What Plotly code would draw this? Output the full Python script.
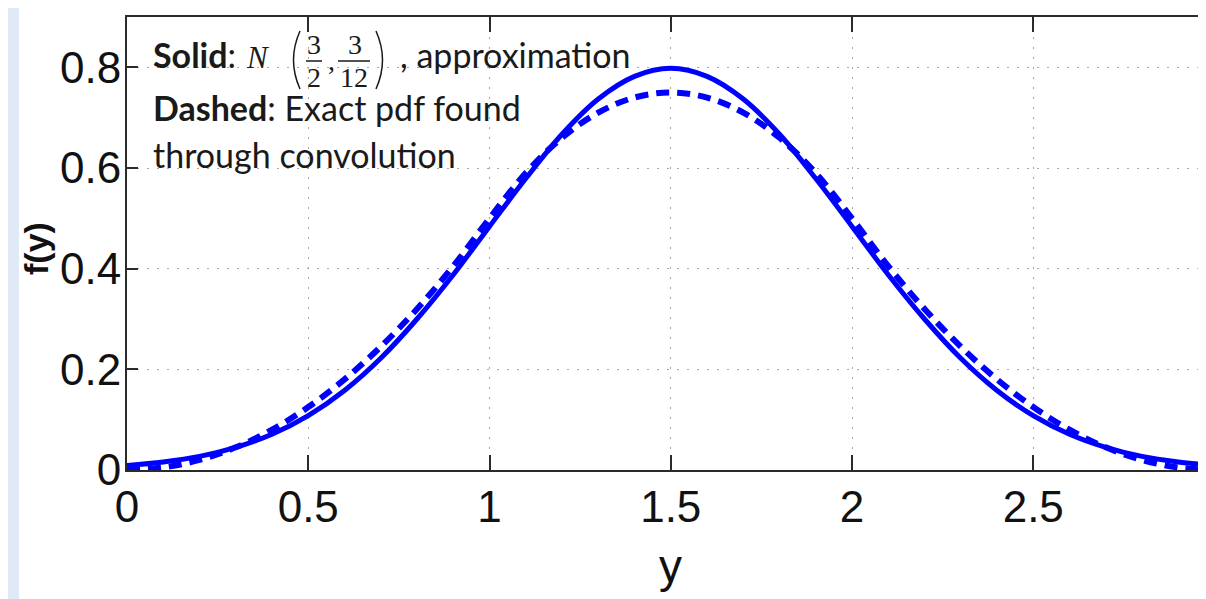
import plotly.graph_objects as go

# data
y_vals = [0.0, 0.1, 0.2, 0.3, 0.4, 0.5, 0.6, 0.7, 0.8, 0.9, 1.0,
          1.1, 1.2, 1.3, 1.4, 1.5, 1.6, 1.7, 1.8, 1.9, 2.0,
          2.1, 2.2, 2.3, 2.4, 2.5, 2.6, 2.7, 2.8, 2.9, 3.0]
normal_approx = [0.009, 0.016, 0.027, 0.045, 0.071, 0.108, 0.158, 0.222, 0.300, 0.388, 0.484,
                 0.579, 0.667, 0.737, 0.782, 0.798, 0.782, 0.737, 0.667, 0.579, 0.484,
                 0.388, 0.300, 0.222, 0.158, 0.108, 0.071, 0.045, 0.027, 0.016, 0.009]
exact_pdf = [0.0, 0.005, 0.020, 0.045, 0.080, 0.125, 0.180, 0.245, 0.320, 0.405, 0.500,
             0.590, 0.660, 0.710, 0.740, 0.750, 0.740, 0.710, 0.660, 0.590, 0.500,
             0.405, 0.320, 0.245, 0.180, 0.125, 0.080, 0.045, 0.020, 0.005, 0.0]

x_ticks = [0, 0.5, 1, 1.5, 2, 2.5]
x_ticklabels = ["0", "0.5", "1", "1.5", "2", "2.5"]
y_ticks = [0, 0.2, 0.4, 0.6, 0.8]
y_ticklabels = ["0", "0.2", "0.4", "0.6", "0.8"]

BLUE = "#0000ff"
BG = "#dfeaf6"
AX = "#2b2b2b"
NUM_FONT = "Liberation Sans, Arial, sans-serif"
TXT_FONT = "Lato, Open Sans, sans-serif"
MATH_FONT = "Liberation Serif, DejaVu Serif, serif"

# the page body has an 8px margin, so the figure sits 8px in from the window corner
OFF = 8
FIG_W, FIG_H = 1206 - OFF, 599 - OFF

# plot area in window pixels
L, T, R, B = 127, 17, 1206, 470
W, H = R - L, B - T


def px(x):
    return (x - L) / W


def py(y):
    return (B - y) / H


fig = go.Figure()

fig.add_trace(go.Scatter(
    x=y_vals, y=normal_approx, mode="lines",
    line=dict(color=BLUE, width=5, shape="spline"),
))
fig.add_trace(go.Scatter(
    x=y_vals, y=exact_pdf, mode="lines",
    line=dict(color=BLUE, width=6, dash="13px,8px", shape="spline"),
))

# light blue frame strip on the left
shapes = [
    dict(type="rect", xref="paper", yref="paper", x0=px(OFF), x1=px(19), y0=py(620), y1=py(0),
         fillcolor=BG, line_width=0, layer="below"),
]

# fraction bars and parentheses for N(3/2, 3/12)
for x0, x1 in [(306, 322), (338, 370)]:
    shapes.append(dict(type="line", xref="paper", yref="paper", x0=px(x0), x1=px(x1),
                       y0=py(61), y1=py(61), line=dict(color="#1a1a1a", width=1.5)))
shapes.append(dict(type="path", xref="paper", yref="paper",
                   path=f"M {px(300)},{py(31)} Q {px(287)},{py(60)} {px(300)},{py(89)}",
                   line=dict(color="#1a1a1a", width=1.5)))
shapes.append(dict(type="path", xref="paper", yref="paper",
                   path=f"M {px(376)},{py(31)} Q {px(389)},{py(60)} {px(376)},{py(89)}",
                   line=dict(color="#1a1a1a", width=1.5)))

ann = []


def note(text, x, y, size=34, family=TXT_FONT, anchor="left", color="#1a1a1a", **kw):
    ann.append(dict(text=text, x=px(x), y=py(y), xref="paper", yref="paper",
                    xanchor=anchor, yanchor="middle", showarrow=False,
                    font=dict(family=family, size=size, color=color), **kw))


note("<b>Solid</b>:", 151, 55)
note("<i>N</i>", 244, 57, size=31, family=MATH_FONT)
note("3", 314, 45, size=28, family=MATH_FONT, anchor="center")
note("2", 314, 77, size=28, family=MATH_FONT, anchor="center")
note(",", 331, 60, size=28, family=MATH_FONT, anchor="center")
note("3", 355, 45, size=28, family=MATH_FONT, anchor="center")
note("12", 354, 77, size=28, family=MATH_FONT, anchor="center")
note(", approximation", 398, 55)
note("<b>Dashed</b>: Exact pdf found", 151, 107)
note("through convolution", 151, 154)

# axis titles
note("y", 670, 566, size=46, family=NUM_FONT, anchor="center", color="#111111")
note("<b>f(y)</b>", 36, 249, size=34, family=NUM_FONT, anchor="center", color="#111111",
     textangle=-90)

tickfont = dict(family=NUM_FONT, size=44, color="#111111")

fig.update_layout(
    width=FIG_W, height=FIG_H,
    margin=dict(l=L - OFF, r=0, t=T - OFF, b=FIG_H - (B - OFF)),
    paper_bgcolor="white", plot_bgcolor="white",
    showlegend=False,
    shapes=shapes,
    annotations=ann,
    xaxis=dict(
        range=[0, (R - L) / 362.5], tickvals=x_ticks, ticktext=x_ticklabels,
        ticks="inside", ticklen=15, tickwidth=1.5, tickcolor=AX,
        showline=True, linecolor=AX, linewidth=2, mirror="ticks",
        showgrid=True, gridcolor="#a8a8a8", gridwidth=1, griddash="2px,8px",
        zeroline=False, ticklabelstandoff=-3, automargin=False,
        tickfont=tickfont,
    ),
    yaxis=dict(
        range=[0, 0.9], tickvals=y_ticks, ticktext=y_ticklabels,
        ticks="inside", ticklen=11, tickwidth=1.5, tickcolor=AX,
        showline=True, linecolor=AX, linewidth=2, mirror=False,
        showgrid=True, gridcolor="#a8a8a8", gridwidth=1, griddash="2px,8px",
        zeroline=False, ticklabelstandoff=-5, automargin=False,
        tickfont=tickfont,
    ),
)

fig.write_html("out.html")
